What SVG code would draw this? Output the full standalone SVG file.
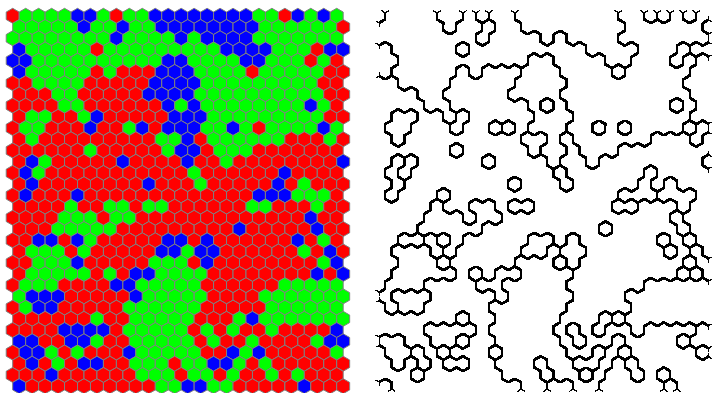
<svg xmlns="http://www.w3.org/2000/svg" width="712" height="393" viewBox="0 0 712 393">
<style>
.r{fill:#ff0000}.g{fill:#00ff00}.b{fill:#0000ff}
.grid{stroke:#808080;stroke-width:1}
</style>
<defs>
<polygon id="r" class="r" points="0,-7.506 6.5,-3.753 6.5,3.753 0,7.506 -6.5,3.753 -6.5,-3.753"/>
<polygon id="g" class="g" points="0,-7.506 6.5,-3.753 6.5,3.753 0,7.506 -6.5,3.753 -6.5,-3.753"/>
<polygon id="b" class="b" points="0,-7.506 6.5,-3.753 6.5,3.753 0,7.506 -6.5,3.753 -6.5,-3.753"/>
<filter id="edges" filterUnits="userSpaceOnUse" x="358" y="-4" width="364" height="404" color-interpolation-filters="sRGB">
<feMorphology in="SourceGraphic" operator="dilate" radius="3" result="dil"/>
<feMerge result="full"><feMergeNode in="dil"/><feMergeNode in="SourceGraphic"/></feMerge>
<feComponentTransfer in="full" result="q"><feFuncR type="discrete" tableValues="0 1"/><feFuncG type="discrete" tableValues="0 1"/><feFuncB type="discrete" tableValues="0 1"/></feComponentTransfer>
<feColorMatrix in="q" type="matrix" values="0 0 0 0 0 0 0 0 0 0 0 0 0 0 0 1 0 0 0 0" result="cr"/>
<feMorphology in="cr" operator="dilate" radius="1" result="crd"/>
<feMorphology in="cr" operator="erode" radius="1" result="cre"/>
<feComposite in="crd" in2="cre" operator="out" result="er"/>
<feColorMatrix in="q" type="matrix" values="0 0 0 0 0 0 0 0 0 0 0 0 0 0 0 0 1 0 0 0" result="cg"/>
<feMorphology in="cg" operator="dilate" radius="1" result="cgd"/>
<feMorphology in="cg" operator="erode" radius="1" result="cge"/>
<feComposite in="cgd" in2="cge" operator="out" result="eg"/>
<feColorMatrix in="q" type="matrix" values="0 0 0 0 0 0 0 0 0 0 0 0 0 0 0 0 0 1 0 0" result="cb"/>
<feMorphology in="cb" operator="dilate" radius="1" result="cbd"/>
<feMorphology in="cb" operator="erode" radius="1" result="cbe"/>
<feComposite in="cbd" in2="cbe" operator="out" result="eb"/>
<feMerge result="e"><feMergeNode in="er"/><feMergeNode in="eg"/><feMergeNode in="eb"/></feMerge>
<feComponentTransfer in="SourceAlpha" result="sa"><feFuncA type="discrete" tableValues="0 1"/></feComponentTransfer>
<feComposite in="e" in2="sa" operator="in" result="ln"/>
<feGaussianBlur in="ln" stdDeviation="0.45" result="lb"/>
<feComponentTransfer in="lb"><feFuncA type="linear" slope="1.5" intercept="0"/></feComponentTransfer>
</filter>
<g id="cells" transform="scale(0.99692)">
<g transform="translate(12.74,15.85)"><use href="#r" x="0"/><use href="#g" x="13"/><use href="#g" x="26"/><use href="#g" x="39"/><use href="#g" x="52"/><use href="#b" x="65"/><use href="#b" x="78"/><use href="#g" x="91"/><use href="#r" x="104"/><use href="#g" x="117"/><use href="#g" x="130"/><use href="#b" x="143"/><use href="#b" x="156"/><use href="#b" x="169"/><use href="#b" x="182"/><use href="#b" x="195"/><use href="#b" x="208"/><use href="#b" x="221"/><use href="#b" x="234"/><use href="#g" x="247"/><use href="#g" x="260"/><use href="#r" x="273"/><use href="#b" x="286"/><use href="#g" x="299"/><use href="#b" x="312"/><use href="#g" x="325"/></g>
<g transform="translate(19.24,27.11)"><use href="#g" x="0"/><use href="#g" x="13"/><use href="#g" x="26"/><use href="#g" x="39"/><use href="#g" x="52"/><use href="#b" x="65"/><use href="#g" x="78"/><use href="#g" x="91"/><use href="#b" x="104"/><use href="#g" x="117"/><use href="#g" x="130"/><use href="#b" x="143"/><use href="#b" x="156"/><use href="#b" x="169"/><use href="#b" x="182"/><use href="#b" x="195"/><use href="#b" x="208"/><use href="#b" x="221"/><use href="#b" x="234"/><use href="#g" x="247"/><use href="#g" x="260"/><use href="#g" x="273"/><use href="#g" x="286"/><use href="#g" x="299"/><use href="#g" x="312"/><use href="#r" x="325"/></g>
<g transform="translate(12.74,38.37)"><use href="#g" x="0"/><use href="#g" x="13"/><use href="#g" x="26"/><use href="#g" x="39"/><use href="#g" x="52"/><use href="#g" x="65"/><use href="#g" x="78"/><use href="#g" x="91"/><use href="#b" x="104"/><use href="#g" x="117"/><use href="#g" x="130"/><use href="#g" x="143"/><use href="#g" x="156"/><use href="#b" x="169"/><use href="#g" x="182"/><use href="#b" x="195"/><use href="#b" x="208"/><use href="#b" x="221"/><use href="#b" x="234"/><use href="#g" x="247"/><use href="#g" x="260"/><use href="#g" x="273"/><use href="#g" x="286"/><use href="#g" x="299"/><use href="#g" x="312"/><use href="#g" x="325"/></g>
<g transform="translate(19.24,49.62)"><use href="#b" x="0"/><use href="#g" x="13"/><use href="#g" x="26"/><use href="#g" x="39"/><use href="#g" x="52"/><use href="#g" x="65"/><use href="#r" x="78"/><use href="#g" x="91"/><use href="#g" x="104"/><use href="#g" x="117"/><use href="#g" x="130"/><use href="#g" x="143"/><use href="#g" x="156"/><use href="#g" x="169"/><use href="#g" x="182"/><use href="#g" x="195"/><use href="#b" x="208"/><use href="#b" x="221"/><use href="#b" x="234"/><use href="#b" x="247"/><use href="#g" x="260"/><use href="#g" x="273"/><use href="#g" x="286"/><use href="#r" x="299"/><use href="#b" x="312"/><use href="#b" x="325"/></g>
<g transform="translate(12.74,60.88)"><use href="#b" x="0"/><use href="#b" x="13"/><use href="#g" x="26"/><use href="#g" x="39"/><use href="#g" x="52"/><use href="#g" x="65"/><use href="#g" x="78"/><use href="#g" x="91"/><use href="#g" x="104"/><use href="#g" x="117"/><use href="#g" x="130"/><use href="#g" x="143"/><use href="#b" x="156"/><use href="#b" x="169"/><use href="#g" x="182"/><use href="#g" x="195"/><use href="#g" x="208"/><use href="#g" x="221"/><use href="#b" x="234"/><use href="#b" x="247"/><use href="#g" x="260"/><use href="#g" x="273"/><use href="#g" x="286"/><use href="#r" x="299"/><use href="#g" x="312"/><use href="#r" x="325"/></g>
<g transform="translate(19.24,72.14)"><use href="#b" x="0"/><use href="#g" x="13"/><use href="#g" x="26"/><use href="#g" x="39"/><use href="#g" x="52"/><use href="#g" x="65"/><use href="#r" x="78"/><use href="#g" x="91"/><use href="#r" x="104"/><use href="#r" x="117"/><use href="#r" x="130"/><use href="#b" x="143"/><use href="#b" x="156"/><use href="#b" x="169"/><use href="#g" x="182"/><use href="#g" x="195"/><use href="#g" x="208"/><use href="#g" x="221"/><use href="#r" x="234"/><use href="#g" x="247"/><use href="#g" x="260"/><use href="#g" x="273"/><use href="#g" x="286"/><use href="#g" x="299"/><use href="#r" x="312"/><use href="#r" x="325"/></g>
<g transform="translate(12.74,83.40)"><use href="#r" x="0"/><use href="#r" x="13"/><use href="#g" x="26"/><use href="#g" x="39"/><use href="#g" x="52"/><use href="#g" x="65"/><use href="#r" x="78"/><use href="#r" x="91"/><use href="#r" x="104"/><use href="#r" x="117"/><use href="#r" x="130"/><use href="#b" x="143"/><use href="#b" x="156"/><use href="#b" x="169"/><use href="#b" x="182"/><use href="#g" x="195"/><use href="#g" x="208"/><use href="#g" x="221"/><use href="#g" x="234"/><use href="#g" x="247"/><use href="#g" x="260"/><use href="#g" x="273"/><use href="#g" x="286"/><use href="#g" x="299"/><use href="#r" x="312"/><use href="#r" x="325"/></g>
<g transform="translate(19.24,94.66)"><use href="#r" x="0"/><use href="#r" x="13"/><use href="#r" x="26"/><use href="#g" x="39"/><use href="#g" x="52"/><use href="#r" x="65"/><use href="#r" x="78"/><use href="#r" x="91"/><use href="#r" x="104"/><use href="#r" x="117"/><use href="#b" x="130"/><use href="#b" x="143"/><use href="#b" x="156"/><use href="#b" x="169"/><use href="#g" x="182"/><use href="#g" x="195"/><use href="#g" x="208"/><use href="#g" x="221"/><use href="#g" x="234"/><use href="#g" x="247"/><use href="#g" x="260"/><use href="#g" x="273"/><use href="#g" x="286"/><use href="#g" x="299"/><use href="#r" x="312"/><use href="#r" x="325"/></g>
<g transform="translate(12.74,105.91)"><use href="#r" x="0"/><use href="#r" x="13"/><use href="#r" x="26"/><use href="#r" x="39"/><use href="#g" x="52"/><use href="#g" x="65"/><use href="#r" x="78"/><use href="#r" x="91"/><use href="#r" x="104"/><use href="#r" x="117"/><use href="#r" x="130"/><use href="#r" x="143"/><use href="#b" x="156"/><use href="#g" x="169"/><use href="#b" x="182"/><use href="#g" x="195"/><use href="#g" x="208"/><use href="#g" x="221"/><use href="#g" x="234"/><use href="#g" x="247"/><use href="#g" x="260"/><use href="#g" x="273"/><use href="#g" x="286"/><use href="#b" x="299"/><use href="#g" x="312"/><use href="#r" x="325"/></g>
<g transform="translate(19.24,117.17)"><use href="#r" x="0"/><use href="#g" x="13"/><use href="#g" x="26"/><use href="#r" x="39"/><use href="#r" x="52"/><use href="#g" x="65"/><use href="#b" x="78"/><use href="#r" x="91"/><use href="#r" x="104"/><use href="#r" x="117"/><use href="#r" x="130"/><use href="#r" x="143"/><use href="#b" x="156"/><use href="#b" x="169"/><use href="#b" x="182"/><use href="#g" x="195"/><use href="#g" x="208"/><use href="#g" x="221"/><use href="#g" x="234"/><use href="#g" x="247"/><use href="#g" x="260"/><use href="#g" x="273"/><use href="#g" x="286"/><use href="#g" x="299"/><use href="#r" x="312"/><use href="#r" x="325"/></g>
<g transform="translate(12.74,128.43)"><use href="#r" x="0"/><use href="#g" x="13"/><use href="#g" x="26"/><use href="#r" x="39"/><use href="#r" x="52"/><use href="#r" x="65"/><use href="#b" x="78"/><use href="#r" x="91"/><use href="#r" x="104"/><use href="#g" x="117"/><use href="#b" x="130"/><use href="#r" x="143"/><use href="#b" x="156"/><use href="#b" x="169"/><use href="#b" x="182"/><use href="#g" x="195"/><use href="#g" x="208"/><use href="#b" x="221"/><use href="#g" x="234"/><use href="#r" x="247"/><use href="#g" x="260"/><use href="#g" x="273"/><use href="#g" x="286"/><use href="#g" x="299"/><use href="#b" x="312"/><use href="#g" x="325"/></g>
<g transform="translate(19.24,139.69)"><use href="#r" x="0"/><use href="#g" x="13"/><use href="#r" x="26"/><use href="#r" x="39"/><use href="#r" x="52"/><use href="#r" x="65"/><use href="#r" x="78"/><use href="#r" x="91"/><use href="#r" x="104"/><use href="#r" x="117"/><use href="#r" x="130"/><use href="#g" x="143"/><use href="#g" x="156"/><use href="#b" x="169"/><use href="#r" x="182"/><use href="#g" x="195"/><use href="#g" x="208"/><use href="#g" x="221"/><use href="#g" x="234"/><use href="#g" x="247"/><use href="#g" x="260"/><use href="#r" x="273"/><use href="#r" x="286"/><use href="#r" x="299"/><use href="#g" x="312"/><use href="#r" x="325"/></g>
<g transform="translate(12.74,150.95)"><use href="#r" x="0"/><use href="#r" x="13"/><use href="#r" x="26"/><use href="#r" x="39"/><use href="#r" x="52"/><use href="#r" x="65"/><use href="#g" x="78"/><use href="#r" x="91"/><use href="#r" x="104"/><use href="#r" x="117"/><use href="#r" x="130"/><use href="#r" x="143"/><use href="#g" x="156"/><use href="#b" x="169"/><use href="#b" x="182"/><use href="#r" x="195"/><use href="#g" x="208"/><use href="#g" x="221"/><use href="#g" x="234"/><use href="#r" x="247"/><use href="#r" x="260"/><use href="#r" x="273"/><use href="#r" x="286"/><use href="#r" x="299"/><use href="#r" x="312"/><use href="#r" x="325"/></g>
<g transform="translate(19.24,162.20)"><use href="#r" x="0"/><use href="#b" x="13"/><use href="#g" x="26"/><use href="#r" x="39"/><use href="#r" x="52"/><use href="#r" x="65"/><use href="#r" x="78"/><use href="#r" x="91"/><use href="#b" x="104"/><use href="#r" x="117"/><use href="#r" x="130"/><use href="#r" x="143"/><use href="#r" x="156"/><use href="#b" x="169"/><use href="#r" x="182"/><use href="#r" x="195"/><use href="#g" x="208"/><use href="#r" x="221"/><use href="#r" x="234"/><use href="#r" x="247"/><use href="#r" x="260"/><use href="#r" x="273"/><use href="#r" x="286"/><use href="#r" x="299"/><use href="#r" x="312"/><use href="#b" x="325"/></g>
<g transform="translate(12.74,173.46)"><use href="#r" x="0"/><use href="#b" x="13"/><use href="#g" x="26"/><use href="#r" x="39"/><use href="#r" x="52"/><use href="#r" x="65"/><use href="#r" x="78"/><use href="#r" x="91"/><use href="#r" x="104"/><use href="#r" x="117"/><use href="#r" x="130"/><use href="#r" x="143"/><use href="#r" x="156"/><use href="#r" x="169"/><use href="#g" x="182"/><use href="#r" x="195"/><use href="#r" x="208"/><use href="#r" x="221"/><use href="#r" x="234"/><use href="#r" x="247"/><use href="#r" x="260"/><use href="#b" x="273"/><use href="#r" x="286"/><use href="#r" x="299"/><use href="#r" x="312"/><use href="#r" x="325"/></g>
<g transform="translate(19.24,184.72)"><use href="#r" x="0"/><use href="#b" x="13"/><use href="#r" x="26"/><use href="#r" x="39"/><use href="#r" x="52"/><use href="#r" x="65"/><use href="#r" x="78"/><use href="#r" x="91"/><use href="#r" x="104"/><use href="#r" x="117"/><use href="#b" x="130"/><use href="#r" x="143"/><use href="#r" x="156"/><use href="#r" x="169"/><use href="#g" x="182"/><use href="#r" x="195"/><use href="#r" x="208"/><use href="#r" x="221"/><use href="#r" x="234"/><use href="#r" x="247"/><use href="#b" x="260"/><use href="#r" x="273"/><use href="#g" x="286"/><use href="#r" x="299"/><use href="#r" x="312"/><use href="#r" x="325"/></g>
<g transform="translate(12.74,195.98)"><use href="#r" x="0"/><use href="#b" x="13"/><use href="#r" x="26"/><use href="#r" x="39"/><use href="#r" x="52"/><use href="#b" x="65"/><use href="#r" x="78"/><use href="#r" x="91"/><use href="#r" x="104"/><use href="#r" x="117"/><use href="#r" x="130"/><use href="#r" x="143"/><use href="#r" x="156"/><use href="#r" x="169"/><use href="#r" x="182"/><use href="#r" x="195"/><use href="#r" x="208"/><use href="#r" x="221"/><use href="#r" x="234"/><use href="#b" x="247"/><use href="#b" x="260"/><use href="#b" x="273"/><use href="#g" x="286"/><use href="#g" x="299"/><use href="#g" x="312"/><use href="#r" x="325"/></g>
<g transform="translate(19.24,207.24)"><use href="#r" x="0"/><use href="#r" x="13"/><use href="#r" x="26"/><use href="#r" x="39"/><use href="#g" x="52"/><use href="#r" x="65"/><use href="#r" x="78"/><use href="#g" x="91"/><use href="#g" x="104"/><use href="#r" x="117"/><use href="#g" x="130"/><use href="#g" x="143"/><use href="#r" x="156"/><use href="#r" x="169"/><use href="#r" x="182"/><use href="#r" x="195"/><use href="#r" x="208"/><use href="#r" x="221"/><use href="#g" x="234"/><use href="#g" x="247"/><use href="#r" x="260"/><use href="#r" x="273"/><use href="#r" x="286"/><use href="#g" x="299"/><use href="#r" x="312"/><use href="#r" x="325"/></g>
<g transform="translate(12.74,218.49)"><use href="#r" x="0"/><use href="#r" x="13"/><use href="#r" x="26"/><use href="#r" x="39"/><use href="#g" x="52"/><use href="#g" x="65"/><use href="#g" x="78"/><use href="#r" x="91"/><use href="#g" x="104"/><use href="#g" x="117"/><use href="#r" x="130"/><use href="#r" x="143"/><use href="#r" x="156"/><use href="#r" x="169"/><use href="#r" x="182"/><use href="#r" x="195"/><use href="#r" x="208"/><use href="#r" x="221"/><use href="#r" x="234"/><use href="#r" x="247"/><use href="#r" x="260"/><use href="#r" x="273"/><use href="#r" x="286"/><use href="#b" x="299"/><use href="#r" x="312"/><use href="#r" x="325"/></g>
<g transform="translate(19.24,229.75)"><use href="#r" x="0"/><use href="#r" x="13"/><use href="#r" x="26"/><use href="#g" x="39"/><use href="#g" x="52"/><use href="#g" x="65"/><use href="#g" x="78"/><use href="#g" x="91"/><use href="#r" x="104"/><use href="#r" x="117"/><use href="#r" x="130"/><use href="#r" x="143"/><use href="#r" x="156"/><use href="#r" x="169"/><use href="#r" x="182"/><use href="#r" x="195"/><use href="#r" x="208"/><use href="#b" x="221"/><use href="#r" x="234"/><use href="#r" x="247"/><use href="#r" x="260"/><use href="#r" x="273"/><use href="#r" x="286"/><use href="#b" x="299"/><use href="#r" x="312"/><use href="#r" x="325"/></g>
<g transform="translate(12.74,241.01)"><use href="#r" x="0"/><use href="#r" x="13"/><use href="#b" x="26"/><use href="#b" x="39"/><use href="#r" x="52"/><use href="#b" x="65"/><use href="#g" x="78"/><use href="#r" x="91"/><use href="#r" x="104"/><use href="#r" x="117"/><use href="#r" x="130"/><use href="#r" x="143"/><use href="#b" x="156"/><use href="#b" x="169"/><use href="#r" x="182"/><use href="#b" x="195"/><use href="#r" x="208"/><use href="#r" x="221"/><use href="#r" x="234"/><use href="#r" x="247"/><use href="#r" x="260"/><use href="#r" x="273"/><use href="#b" x="286"/><use href="#r" x="299"/><use href="#g" x="312"/><use href="#r" x="325"/></g>
<g transform="translate(19.24,252.27)"><use href="#r" x="0"/><use href="#g" x="13"/><use href="#g" x="26"/><use href="#g" x="39"/><use href="#r" x="52"/><use href="#g" x="65"/><use href="#r" x="78"/><use href="#r" x="91"/><use href="#r" x="104"/><use href="#r" x="117"/><use href="#r" x="130"/><use href="#b" x="143"/><use href="#b" x="156"/><use href="#g" x="169"/><use href="#b" x="182"/><use href="#b" x="195"/><use href="#r" x="208"/><use href="#r" x="221"/><use href="#r" x="234"/><use href="#r" x="247"/><use href="#r" x="260"/><use href="#r" x="273"/><use href="#g" x="286"/><use href="#r" x="299"/><use href="#b" x="312"/><use href="#r" x="325"/></g>
<g transform="translate(12.74,263.53)"><use href="#r" x="0"/><use href="#r" x="13"/><use href="#g" x="26"/><use href="#g" x="39"/><use href="#g" x="52"/><use href="#b" x="65"/><use href="#r" x="78"/><use href="#r" x="91"/><use href="#r" x="104"/><use href="#r" x="117"/><use href="#r" x="130"/><use href="#g" x="143"/><use href="#g" x="156"/><use href="#g" x="169"/><use href="#r" x="182"/><use href="#b" x="195"/><use href="#r" x="208"/><use href="#r" x="221"/><use href="#r" x="234"/><use href="#r" x="247"/><use href="#r" x="260"/><use href="#r" x="273"/><use href="#r" x="286"/><use href="#r" x="299"/><use href="#g" x="312"/><use href="#b" x="325"/></g>
<g transform="translate(19.24,274.78)"><use href="#r" x="0"/><use href="#g" x="13"/><use href="#g" x="26"/><use href="#g" x="39"/><use href="#g" x="52"/><use href="#g" x="65"/><use href="#r" x="78"/><use href="#g" x="91"/><use href="#r" x="104"/><use href="#b" x="117"/><use href="#b" x="130"/><use href="#g" x="143"/><use href="#g" x="156"/><use href="#g" x="169"/><use href="#g" x="182"/><use href="#r" x="195"/><use href="#r" x="208"/><use href="#r" x="221"/><use href="#r" x="234"/><use href="#r" x="247"/><use href="#r" x="260"/><use href="#r" x="273"/><use href="#r" x="286"/><use href="#b" x="299"/><use href="#r" x="312"/><use href="#b" x="325"/></g>
<g transform="translate(12.74,286.04)"><use href="#r" x="0"/><use href="#g" x="13"/><use href="#g" x="26"/><use href="#g" x="39"/><use href="#r" x="52"/><use href="#r" x="65"/><use href="#r" x="78"/><use href="#r" x="91"/><use href="#b" x="104"/><use href="#b" x="117"/><use href="#g" x="130"/><use href="#g" x="143"/><use href="#g" x="156"/><use href="#g" x="169"/><use href="#g" x="182"/><use href="#r" x="195"/><use href="#r" x="208"/><use href="#r" x="221"/><use href="#r" x="234"/><use href="#r" x="247"/><use href="#r" x="260"/><use href="#g" x="273"/><use href="#g" x="286"/><use href="#g" x="299"/><use href="#g" x="312"/><use href="#g" x="325"/></g>
<g transform="translate(19.24,297.30)"><use href="#g" x="0"/><use href="#b" x="13"/><use href="#b" x="26"/><use href="#b" x="39"/><use href="#r" x="52"/><use href="#r" x="65"/><use href="#r" x="78"/><use href="#r" x="91"/><use href="#r" x="104"/><use href="#b" x="117"/><use href="#g" x="130"/><use href="#g" x="143"/><use href="#g" x="156"/><use href="#g" x="169"/><use href="#g" x="182"/><use href="#r" x="195"/><use href="#r" x="208"/><use href="#r" x="221"/><use href="#r" x="234"/><use href="#g" x="247"/><use href="#g" x="260"/><use href="#g" x="273"/><use href="#g" x="286"/><use href="#g" x="299"/><use href="#g" x="312"/><use href="#g" x="325"/></g>
<g transform="translate(12.74,308.56)"><use href="#r" x="0"/><use href="#g" x="13"/><use href="#b" x="26"/><use href="#b" x="39"/><use href="#r" x="52"/><use href="#r" x="65"/><use href="#r" x="78"/><use href="#r" x="91"/><use href="#r" x="104"/><use href="#g" x="117"/><use href="#g" x="130"/><use href="#g" x="143"/><use href="#g" x="156"/><use href="#g" x="169"/><use href="#g" x="182"/><use href="#r" x="195"/><use href="#r" x="208"/><use href="#r" x="221"/><use href="#r" x="234"/><use href="#r" x="247"/><use href="#g" x="260"/><use href="#g" x="273"/><use href="#g" x="286"/><use href="#g" x="299"/><use href="#g" x="312"/><use href="#g" x="325"/></g>
<g transform="translate(19.24,319.82)"><use href="#r" x="0"/><use href="#r" x="13"/><use href="#r" x="26"/><use href="#r" x="39"/><use href="#r" x="52"/><use href="#r" x="65"/><use href="#g" x="78"/><use href="#r" x="91"/><use href="#r" x="104"/><use href="#g" x="117"/><use href="#g" x="130"/><use href="#g" x="143"/><use href="#g" x="156"/><use href="#g" x="169"/><use href="#r" x="182"/><use href="#r" x="195"/><use href="#r" x="208"/><use href="#g" x="221"/><use href="#b" x="234"/><use href="#g" x="247"/><use href="#g" x="260"/><use href="#g" x="273"/><use href="#g" x="286"/><use href="#g" x="299"/><use href="#g" x="312"/><use href="#g" x="325"/></g>
<g transform="translate(12.74,331.07)"><use href="#r" x="0"/><use href="#r" x="13"/><use href="#r" x="26"/><use href="#r" x="39"/><use href="#b" x="52"/><use href="#b" x="65"/><use href="#b" x="78"/><use href="#b" x="91"/><use href="#r" x="104"/><use href="#g" x="117"/><use href="#g" x="130"/><use href="#g" x="143"/><use href="#g" x="156"/><use href="#g" x="169"/><use href="#r" x="182"/><use href="#g" x="195"/><use href="#r" x="208"/><use href="#g" x="221"/><use href="#r" x="234"/><use href="#r" x="247"/><use href="#g" x="260"/><use href="#r" x="273"/><use href="#r" x="286"/><use href="#r" x="299"/><use href="#r" x="312"/><use href="#b" x="325"/></g>
<g transform="translate(19.24,342.33)"><use href="#b" x="0"/><use href="#b" x="13"/><use href="#r" x="26"/><use href="#r" x="39"/><use href="#b" x="52"/><use href="#b" x="65"/><use href="#g" x="78"/><use href="#r" x="91"/><use href="#r" x="104"/><use href="#g" x="117"/><use href="#g" x="130"/><use href="#g" x="143"/><use href="#g" x="156"/><use href="#g" x="169"/><use href="#r" x="182"/><use href="#g" x="195"/><use href="#r" x="208"/><use href="#r" x="221"/><use href="#g" x="234"/><use href="#r" x="247"/><use href="#r" x="260"/><use href="#r" x="273"/><use href="#r" x="286"/><use href="#g" x="299"/><use href="#b" x="312"/><use href="#b" x="325"/></g>
<g transform="translate(12.74,353.59)"><use href="#r" x="0"/><use href="#b" x="13"/><use href="#b" x="26"/><use href="#g" x="39"/><use href="#r" x="52"/><use href="#g" x="65"/><use href="#r" x="78"/><use href="#r" x="91"/><use href="#r" x="104"/><use href="#b" x="117"/><use href="#g" x="130"/><use href="#g" x="143"/><use href="#g" x="156"/><use href="#g" x="169"/><use href="#g" x="182"/><use href="#r" x="195"/><use href="#r" x="208"/><use href="#b" x="221"/><use href="#g" x="234"/><use href="#b" x="247"/><use href="#r" x="260"/><use href="#r" x="273"/><use href="#r" x="286"/><use href="#r" x="299"/><use href="#r" x="312"/><use href="#g" x="325"/></g>
<g transform="translate(19.24,364.85)"><use href="#r" x="0"/><use href="#b" x="13"/><use href="#r" x="26"/><use href="#g" x="39"/><use href="#r" x="52"/><use href="#b" x="65"/><use href="#b" x="78"/><use href="#r" x="91"/><use href="#r" x="104"/><use href="#g" x="117"/><use href="#g" x="130"/><use href="#g" x="143"/><use href="#r" x="156"/><use href="#g" x="169"/><use href="#g" x="182"/><use href="#b" x="195"/><use href="#b" x="208"/><use href="#g" x="221"/><use href="#r" x="234"/><use href="#g" x="247"/><use href="#r" x="260"/><use href="#r" x="273"/><use href="#r" x="286"/><use href="#r" x="299"/><use href="#r" x="312"/><use href="#r" x="325"/></g>
<g transform="translate(12.74,376.11)"><use href="#r" x="0"/><use href="#r" x="13"/><use href="#r" x="26"/><use href="#b" x="39"/><use href="#r" x="52"/><use href="#r" x="65"/><use href="#r" x="78"/><use href="#r" x="91"/><use href="#r" x="104"/><use href="#r" x="117"/><use href="#g" x="130"/><use href="#g" x="143"/><use href="#g" x="156"/><use href="#r" x="169"/><use href="#g" x="182"/><use href="#g" x="195"/><use href="#r" x="208"/><use href="#g" x="221"/><use href="#r" x="234"/><use href="#r" x="247"/><use href="#g" x="260"/><use href="#r" x="273"/><use href="#g" x="286"/><use href="#r" x="299"/><use href="#r" x="312"/><use href="#r" x="325"/></g>
<g transform="translate(19.24,387.36)"><use href="#b" x="0"/><use href="#r" x="13"/><use href="#r" x="26"/><use href="#r" x="39"/><use href="#r" x="52"/><use href="#r" x="65"/><use href="#r" x="78"/><use href="#r" x="91"/><use href="#r" x="104"/><use href="#r" x="117"/><use href="#r" x="130"/><use href="#g" x="143"/><use href="#g" x="156"/><use href="#b" x="169"/><use href="#b" x="182"/><use href="#g" x="195"/><use href="#g" x="208"/><use href="#r" x="221"/><use href="#r" x="234"/><use href="#r" x="247"/><use href="#r" x="260"/><use href="#r" x="273"/><use href="#b" x="286"/><use href="#r" x="299"/><use href="#r" x="312"/><use href="#r" x="325"/></g>
</g>
</defs>
<rect width="712" height="393" fill="#fff"/>
<g id="lattice" class="grid"><use href="#cells"/></g>
<g id="boundaries" filter="url(#edges)"><use href="#cells" transform="translate(366,0)"/></g>
</svg>
